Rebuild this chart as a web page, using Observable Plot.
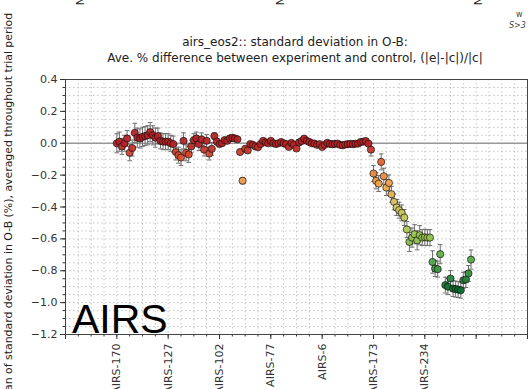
<!DOCTYPE html>
<html>
<head>
<meta charset="utf-8">
<script src="https://cdn.jsdelivr.net/npm/d3@7"></script>
<script src="https://cdn.jsdelivr.net/npm/@observablehq/plot@0.6"></script>
<style>
  html, body { margin: 0; padding: 0; background: #fff; }
  #chart { width: 529px; height: 389px; overflow: hidden; position: relative; }
  svg { font-family: "DejaVu Sans", sans-serif; }
</style>
</head>
<body>
<div id="chart"></div>
<script>
// ---- data ----
const titleLines = [
  "airs_eos2:: standard deviation in O-B:",
  "Ave. % difference between experiment and control, (|e|-|c|)/|c|"
];
const yLabel = "Mean of standard deviation in O-B (%), averaged throughout trial period";
const panelLabel = "AIRS";

const channelIndex = [
  0,1,2,3,4,5,6,7,8,9,10,11,12,13,14,15,16,17,18,19,
  20,21,22,23,24,25,26,27,28,29,30,31,32,33,34,35,36,37,38,39,
  40,41,42,43,44,45,46,47,48,49,50,51,52,53,54,55,56,57,58,59,
  60,61,62,63,64,65,66,67,68,69,70,71,72,73,74,75,76,77,78,79,
  80,81,82,83,84,85,86,87,88,89,90,91,92,93,94,95,96,97,98,
  99,100,101,102,103,104,105,106,107,108,109,110,111,112,113,114,115,116,117,118,
  119,120,121,122,123,124,125,126,128,129,130,131,132,133,134,135,136,137,138
];
const meanDiff = [
  0.00,0.01,-0.02,0.00,0.03,-0.06,-0.03,0.065,0.035,0.03,0.04,0.045,0.05,0.07,0.05,0.035,0.045,0.015,0.01,0.01,
  0.01,0.0,-0.005,-0.055,-0.075,-0.09,0.015,-0.06,-0.07,-0.02,0.02,0.03,-0.005,0.025,-0.04,0.015,-0.065,-0.035,0.045,0.01,
  -0.005,0.0,0.02,0.015,0.03,0.035,0.03,0.025,-0.055,-0.235,-0.035,-0.045,-0.005,-0.01,-0.02,-0.025,-0.005,0.015,0.005,0.0,
  0.015,0.0,-0.005,0.0,0.008,0.0,-0.005,-0.023,0.002,-0.01,-0.033,0.005,0.014,0.029,0.015,0.008,0.0,-0.002,-0.01,-0.006,
  -0.023,-0.01,0.002,-0.004,-0.006,-0.004,-0.002,-0.01,-0.013,-0.008,-0.006,-0.004,-0.006,-0.003,-0.002,0.008,0.01,0.014,-0.002,
  -0.04,-0.19,-0.236,-0.253,-0.117,-0.207,-0.278,-0.249,-0.32,-0.368,-0.403,-0.42,-0.437,-0.466,-0.541,-0.619,-0.592,-0.571,-0.609,-0.577,
  -0.592,-0.59,-0.592,-0.592,-0.745,-0.786,-0.79,-0.696,-0.89,-0.9,-0.849,-0.912,-0.915,-0.918,-0.922,-0.86,-0.855,-0.817,-0.73
];
const errHalf = [
  0.06,0.06,0.05,0.05,0.05,0.05,0.05,0.06,0.06,0.06,0.06,0.06,0.06,0.06,0.06,0.06,0.05,0.05,0.05,0.05,
  0.05,0.05,0.05,0.05,0.05,0.05,0.05,0.05,0.05,0.04,0.04,0.04,0.04,0.04,0.04,0.04,0.04,0.04,0.02,0.02,
  0.015,0.015,0.015,0.015,0.015,0.015,0.015,0.015,0.015,0.02,0.015,0.015,0.01,0.01,0.01,0.01,0.01,0.01,0.01,0.01,
  0.01,0.01,0.01,0.01,0.01,0.01,0.01,0.01,0.01,0.01,0.01,0.01,0.01,0.01,0.01,0.01,0.01,0.01,0.01,0.01,
  0.01,0.01,0.01,0.01,0.01,0.01,0.01,0.01,0.01,0.01,0.01,0.01,0.01,0.01,0.01,0.01,0.01,0.015,0.015,
  0.04,0.05,0.05,0.05,0.05,0.05,0.05,0.05,0.05,0.05,0.05,0.05,0.05,0.05,0.05,0.06,0.06,0.06,0.06,0.06,
  0.05,0.05,0.05,0.05,0.07,0.05,0.05,0.06,0.05,0.05,0.05,0.05,0.05,0.05,0.05,0.05,0.05,0.05,0.06
];
const xTickValues = [-20,0,20,40,60,80,100,120,140,160];
const xTickLabels = ["","AIRS-170","AIRS-127","AIRS-102","AIRS-77","AIRS-6","AIRS-173","AIRS-234","",""];
const yTickValues = [0.4,0.2,0.0,-0.2,-0.4,-0.6,-0.8,-1.0,-1.2];

// colour ramp stops (value -> colour)
const colorStops = [-0.92, -0.75, -0.55, -0.4, -0.25, -0.12, 0.0];
const colorRamp  = ["#0d6a30", "#4aa446", "#a6c94e", "#d6c762", "#efa24a", "#e5602f", "#b51f24"];

// ---- build table ----
const rows = channelIndex.map((c, i) => ({ch: c, v: meanDiff[i], e: errHalf[i]}));
const xGrid = d3.range(-20, 160.01, 5);
const yGrid = d3.range(-1.2, 0.401, 0.05);
const fmtY = d => d.toFixed(1).replace("-", "\u2212");

const W = 529, H = 389;
const M = {top: 79, right: 2, bottom: 55, left: 65};

const plot = Plot.plot({
  width: W, height: H,
  marginTop: M.top, marginRight: M.right, marginBottom: M.bottom, marginLeft: M.left,
  style: {fontFamily: "DejaVu Sans, sans-serif", fontSize: "11px", color: "#333", background: "white"},
  x: {domain: [-20, 160]},
  y: {domain: [-1.2, 0.4]},
  color: {type: "linear", domain: colorStops, range: colorRamp, interpolate: "rgb", clamp: true},
  marks: [
    Plot.ruleX(xGrid, {stroke: "#b8b8b8", strokeWidth: 0.8, strokeDasharray: "1.5,2.5"}),
    Plot.ruleY(yGrid, {stroke: "#b8b8b8", strokeWidth: 0.8, strokeDasharray: "1.5,2.5"}),
    Plot.ruleY([0], {stroke: "#999", strokeWidth: 1.6}),
    // error bars
    Plot.ruleX(rows, {x: "ch", y1: d => d.v - d.e, y2: d => d.v + d.e, stroke: "#6f6f6f", strokeWidth: 1}),
    Plot.link(rows, {x1: d => d.ch - 0.9, x2: d => d.ch + 0.9, y1: d => d.v - d.e, y2: d => d.v - d.e, stroke: "#6f6f6f", strokeWidth: 1}),
    Plot.link(rows, {x1: d => d.ch - 0.9, x2: d => d.ch + 0.9, y1: d => d.v + d.e, y2: d => d.v + d.e, stroke: "#6f6f6f", strokeWidth: 1}),
    // points
    Plot.dot(rows, {x: "ch", y: "v", r: 3.6, fill: "v", fillOpacity: 0.92, stroke: "#111", strokeWidth: 0.7}),
    // axes
    Plot.axisY({ticks: yTickValues, tickFormat: fmtY, tickSize: 5, tickPadding: 3, label: null, fontSize: 11, stroke: "#333"}),
    Plot.axisY({ticks: yGrid, tickFormat: () => "", tickSize: 2.5, label: null, stroke: "#333"}),
    Plot.axisX({ticks: xTickValues, tickFormat: (d) => xTickLabels[xTickValues.indexOf(d)], tickSize: 5, tickRotate: -90, tickPadding: 4, label: null, fontSize: 11, stroke: "#333"}),
    Plot.axisX({ticks: xGrid, tickFormat: () => "", tickSize: 2.5, label: null, stroke: "#333"}),
    Plot.frame({stroke: "#444", strokeWidth: 1})
  ]
});

document.getElementById("chart").appendChild(plot);

const svg = d3.select(plot);
// titles
svg.append("text").attr("x", 295).attr("y", 46).attr("text-anchor", "middle")
  .attr("font-size", 12).attr("fill", "#222").text(titleLines[0]);
svg.append("text").attr("x", 295).attr("y", 62).attr("text-anchor", "middle")
  .attr("font-size", 12).attr("fill", "#222").text(titleLines[1]);
// y label (clipped by the window, like the reference)
svg.append("text").attr("transform", "translate(12,210) rotate(-90)").attr("text-anchor", "middle")
  .attr("font-size", 10.9).attr("fill", "#222").text(yLabel);
// big panel label
svg.append("text").attr("x", 72).attr("y", 333).attr("text-anchor", "start")
  .attr("font-family", "Liberation Sans, Arial, sans-serif")
  .attr("font-size", 41).attr("fill", "#000").text(panelLabel);
// partial text from neighbouring panels (cut off at the window edge)
[80, 280, 478].forEach(x => {
  svg.append("text").attr("transform", `translate(${x + 4},-3) rotate(-90)`).attr("text-anchor", "end")
    .attr("font-size", 11).attr("fill", "#222").text("N");
});
svg.append("text").attr("x", 516).attr("y", 17).attr("text-anchor", "start").attr("font-size", 8).attr("fill", "#444").text("w");
svg.append("text").attr("x", 509).attr("y", 28).attr("text-anchor", "start").attr("font-size", 8).attr("fill", "#444").attr("font-style", "italic").text("S>3");
</script>
</body>
</html>
